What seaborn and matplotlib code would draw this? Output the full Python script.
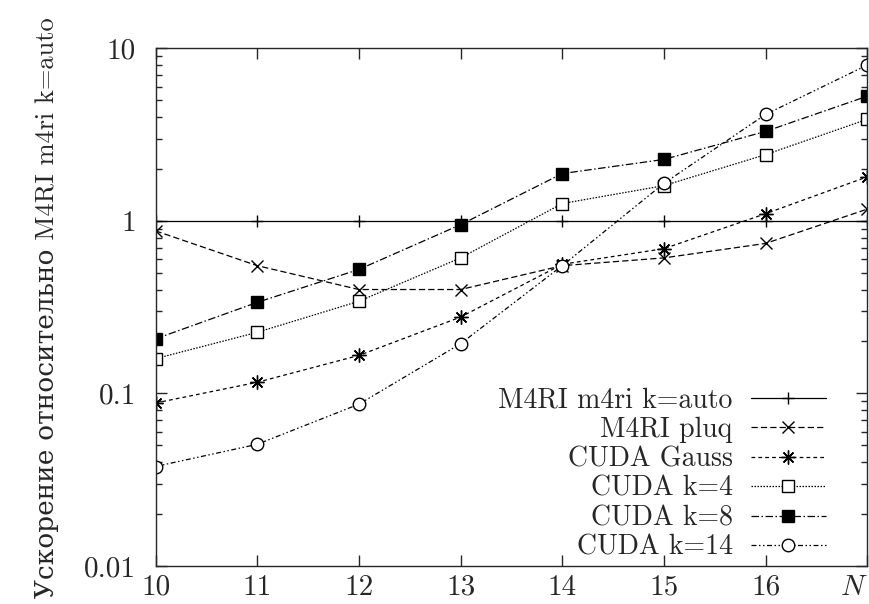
import matplotlib
matplotlib.use("Agg")
import matplotlib.pyplot as plt
import seaborn as sns
import pandas as pd

# ускорение относительно M4RI (k=auto), по N
N = [10, 11, 12, 13, 14, 15, 16, 17]
m4ri_auto = [1.0, 1.0, 1.0, 1.0, 1.0, 1.0, 1.0, 1.0]
m4ri_pluq = [0.875, 0.55, 0.40, 0.40, 0.55, 0.61, 0.74, 1.17]
cuda_gauss = [0.088, 0.116, 0.166, 0.277, 0.56, 0.69, 1.10, 1.80]
cuda_k4 = [0.159, 0.226, 0.342, 0.61, 1.26, 1.60, 2.42, 3.88]
cuda_k8 = [0.207, 0.337, 0.523, 0.95, 1.88, 2.27, 3.30, 5.28]
cuda_k14 = [0.0377, 0.0507, 0.0866, 0.194, 0.55, 1.65, 4.14, 8.0]

labels = ["M4RI m4ri k=auto", "M4RI pluq", "CUDA Gauss",
          "CUDA k=4", "CUDA k=8", "CUDA k=14"]
series = [m4ri_auto, m4ri_pluq, cuda_gauss, cuda_k4, cuda_k8, cuda_k14]
xticklabels = ["10", "11", "12", "13", "14", "15", "16", "$N$"]

sns.set_style("ticks")
plt.rcParams["font.family"] = ["cmr10", "DejaVu Serif"]
plt.rcParams["mathtext.fontset"] = "cm"
plt.rcParams["axes.formatter.use_mathtext"] = True

styles = [
    dict(linestyle="-", marker="+", ms=8, mfc="black"),
    dict(linestyle=(0, (5, 2.5)), marker="x", ms=8, mfc="black"),
    dict(linestyle=(0, (3, 2.5)), marker=(8, 2, 0), ms=10, mfc="black"),
    dict(linestyle=(0, (1.2, 1.2)), marker="s", ms=9, mfc="white"),
    dict(linestyle=(0, (6, 2, 1.2, 2)), marker="s", ms=9, mfc="black"),
    dict(linestyle=(0, (4, 2, 1.2, 2, 1.2, 2)), marker="o", ms=9, mfc="white"),
]

fig, ax = plt.subplots(figsize=(8.69, 6.04), dpi=100)
fig.subplots_adjust(left=0.179, right=0.998, top=0.92, bottom=0.063)

for lab, vals, st in zip(labels, series, styles):
    df = pd.DataFrame({"N": N, "v": vals})
    sns.lineplot(data=df, x="N", y="v", ax=ax, label=lab, color="black",
                 linewidth=0.9, mec="black", mew=1.0, **st)

ax.set_yscale("log")
ax.set_xlim(10, 17)
ax.set_ylim(0.01, 10)
ax.set_xticks(N)
ax.set_xticklabels(xticklabels)
ax.get_xticklabels()[-1].set_horizontalalignment("right")
ax.set_yticks([0.01, 0.1, 1, 10])
ax.set_yticklabels(["0.01", "0.1", "1", "10"])
ax.tick_params(which="both", direction="in", top=True, right=True,
               labelsize=21, width=1.0)
ax.tick_params(which="major", length=8)
ax.tick_params(which="minor", length=4)
ax.tick_params(axis="y", which="major", pad=14)
ax.tick_params(axis="x", which="major", pad=6)
for s in ax.spines.values():
    s.set_linewidth(1.0)

ax.set_xlabel("")
ax.set_ylabel("Ускорение относительно M4RI m4ri k=auto", fontsize=19, labelpad=18)

ax.legend(loc="lower right", bbox_to_anchor=(0.965, -0.022), frameon=False,
          markerfirst=False, fontsize=20, handlelength=2.7,
          labelspacing=0.11, handletextpad=0.65, borderaxespad=0.2)

plt.savefig("out.png", dpi=100)
